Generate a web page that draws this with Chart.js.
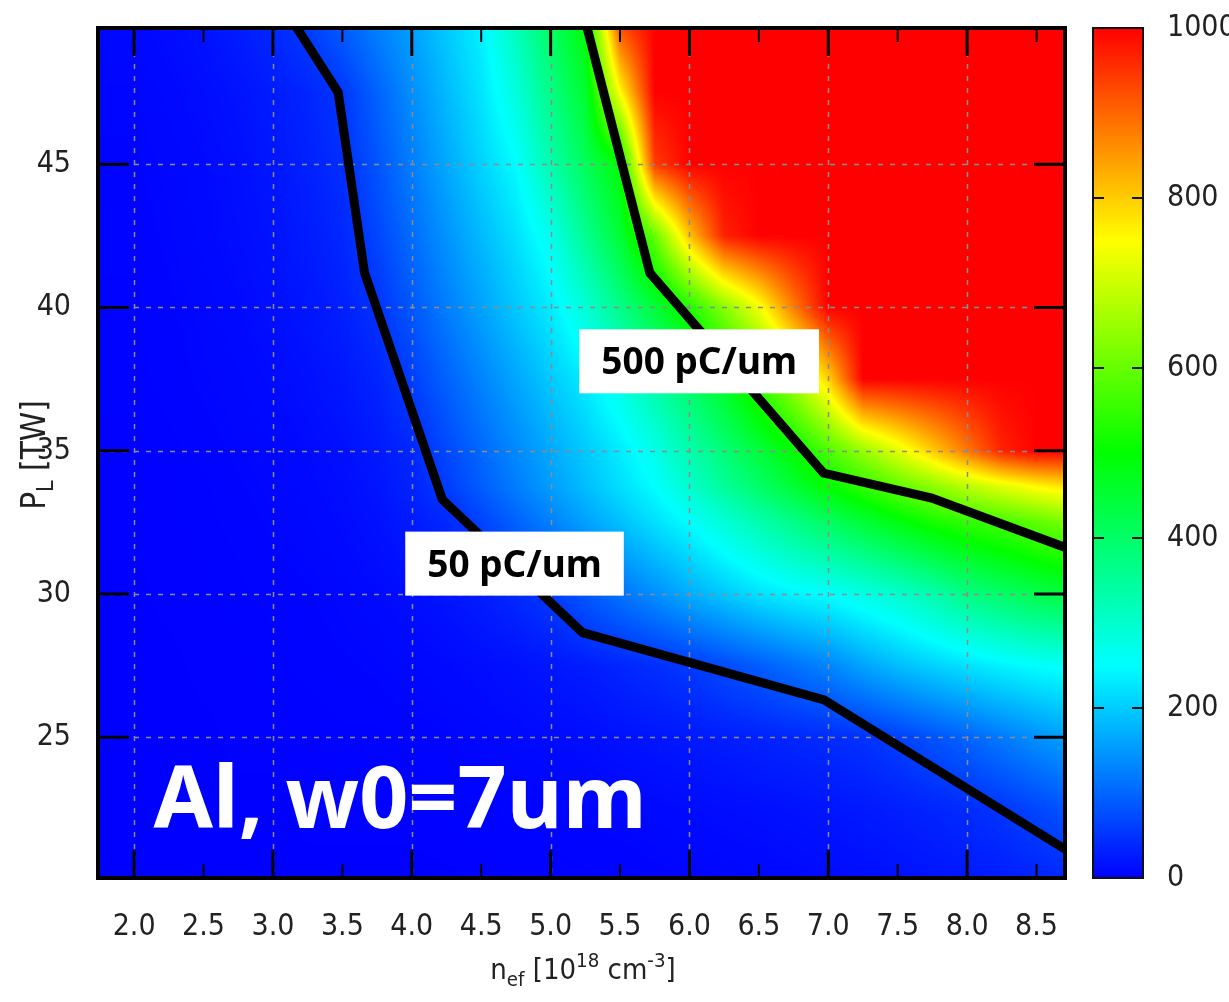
<!DOCTYPE html>
<html>
<head>
<meta charset="utf-8">
<title>Al, w0=7um charge map</title>
<script src="https://cdn.jsdelivr.net/npm/chart.js@4.4.1/dist/chart.umd.min.js"></script>
<style>
  html, body { margin: 0; padding: 0; background: #fff; }
  canvas { display: block; }
</style>
</head>
<body>
<canvas id="map" width="1229" height="1002"></canvas>
<script>
// sample grid: plasma density n_ef [1e18 cm^-3] and laser power P_L [TW]
const nefGrid = [2.0, 2.25, 2.5, 2.75, 3.0, 3.25, 3.5, 3.75, 4.0, 4.25, 4.5, 4.75, 5.0, 5.25,
                 5.5, 5.75, 6.0, 6.25, 6.5, 6.75, 7.0, 7.25, 7.5, 7.75, 8.0, 8.25, 8.5, 8.75];
const powerGrid = [50, 47.5, 45, 42.5, 40, 37.5, 35, 33.75, 32.5, 30, 27.5, 25, 22.5, 20];

// charge per unit length [pC/um], one row per power value
const q50   = [8, 12, 18, 28, 40, 60, 95, 128, 160, 200, 238, 320, 408, 496, 940, 1000, 1000, 1000, 1000, 1000, 1000, 1000, 1000, 1000, 1000, 1000, 1000, 1000];
const q475  = [5, 8, 12, 18, 26, 36, 53, 96, 139, 182, 224, 284, 370, 455, 750, 1000, 1000, 1000, 1000, 1000, 1000, 1000, 1000, 1000, 1000, 1000, 1000, 1000];
const q45   = [4, 6, 9, 14, 21, 31, 45, 82, 123, 165, 207, 248, 330, 413, 497, 941, 1000, 1000, 1000, 1000, 1000, 1000, 1000, 1000, 1000, 1000, 1000, 1000];
const q425  = [3, 5, 8, 12, 18, 26, 38, 67, 106, 144, 182, 220, 268, 358, 448, 598, 808, 968, 1000, 1000, 1000, 1000, 1000, 1000, 1000, 1000, 1000, 1000];
const q40   = [2, 4, 6, 9, 14, 20, 30, 49, 86, 123, 159, 196, 232, 290, 367, 444, 529, 633, 738, 878, 1000, 1000, 1000, 1000, 1000, 1000, 1000, 1000];
const q375  = [2, 3, 5, 7, 10, 15, 22, 34, 60, 95, 129, 163, 198, 232, 280, 343, 406, 469, 554, 663, 792, 1000, 1000, 1000, 1000, 1000, 1000, 1000];
const q35   = [1, 2, 3, 5, 7, 10, 15, 24, 38, 70, 102, 134, 166, 198, 231, 273, 330, 386, 443, 500, 574, 647, 721, 800, 883, 967, 1000, 1000];
const q3375 = [1, 1, 2, 4, 6, 8, 12, 19, 34, 58, 90, 122, 154, 186, 218, 250, 300, 350, 400, 450, 500, 545, 590, 635, 680, 720, 755, 780];
const q325  = [1, 1, 2, 3, 5, 7, 10, 16, 25, 38, 64, 95, 126, 157, 188, 219, 250, 289, 328, 367, 406, 445, 484, 520, 545, 565, 590, 620];
const q30   = [0, 1, 1, 2, 3, 4, 6, 9, 13, 19, 28, 39, 57, 85, 112, 140, 170, 196, 222, 240, 252, 275, 298, 330, 372, 400, 425, 445];
const q275  = [0, 0, 1, 1, 2, 3, 4, 5, 7, 9, 12, 16, 21, 27, 36, 45, 56, 73, 90, 110, 130, 160, 185, 205, 222, 238, 250, 258];
const q25   = [0, 0, 0, 1, 1, 1, 2, 2, 3, 4, 6, 8, 10, 12, 16, 20, 24, 28, 33, 38, 43, 48, 62, 80, 98, 120, 142, 160];
const q225  = [0, 0, 0, 0, 0, 1, 1, 1, 1, 2, 2, 3, 4, 5, 6, 8, 10, 12, 14, 17, 20, 24, 29, 35, 42, 52, 68, 85];
const q20   = [0, 0, 0, 0, 0, 0, 0, 0, 0, 0, 1, 1, 1, 2, 2, 3, 4, 5, 6, 8, 10, 12, 15, 18, 22, 27, 32, 38];
const charge = [q50, q475, q45, q425, q40, q375, q35, q3375, q325, q30, q275, q25, q225, q20];

// iso-charge lines
const line50N  = [3.14, 3.47, 3.66, 4.22, 5.23, 6.97, 8.72];
const line50P  = [50.0, 47.5, 41.2, 33.3, 28.65, 26.3, 21.05];
const line500N = [5.25, 5.715, 6.965, 7.745, 8.72];
const line500P = [50.0, 41.2, 34.22, 33.35, 31.6];

// axes
const xTicks = [2.0, 2.5, 3.0, 3.5, 4.0, 4.5, 5.0, 5.5, 6.0, 6.5, 7.0, 7.5, 8.0, 8.5];
const yTicks = [25, 30, 35, 40, 45];
const cbTicks = [0, 200, 400, 600, 800, 1000];

// palette: blue -> cyan -> green -> yellow -> red
const paletteStops = [0, 250, 500, 750, 1000];
const paletteRgb = [[0, 0, 255], [0, 255, 255], [0, 255, 0], [255, 255, 0], [255, 0, 0]];

const narrow = "'DejaVu Sans Condensed', 'DejaVu Sans', sans-serif";
const tickFont = { family: narrow, size: 30 };

function colorFor(v) {
  if (v <= paletteStops[0]) return paletteRgb[0];
  const n = paletteStops.length - 1;
  if (v >= paletteStops[n]) return paletteRgb[n];
  for (let k = 0; k < n; k++) {
    if (v <= paletteStops[k + 1]) {
      const t = (v - paletteStops[k]) / (paletteStops[k + 1] - paletteStops[k]);
      const a = paletteRgb[k], b = paletteRgb[k + 1];
      return [a[0] + (b[0] - a[0]) * t, a[1] + (b[1] - a[1]) * t, a[2] + (b[2] - a[2]) * t];
    }
  }
}

// index of the grid interval holding v, plus the fraction inside it
function locate(arr, v) {
  const last = arr.length - 1;
  const asc = arr[last] > arr[0];
  if (asc ? v <= arr[0] : v >= arr[0]) return [0, 0];
  if (asc ? v >= arr[last] : v <= arr[last]) return [last - 1, 1];
  for (let k = 0; k < last; k++) {
    const a = arr[k], b = arr[k + 1];
    if ((v - a) * (v - b) <= 0) return [k, (v - a) / (b - a)];
  }
  return [last - 1, 1];
}

function drawRich(ctx, parts, x, y, size, align) {
  const widthOf = p => {
    ctx.font = `${p.sub || p.sup ? size * 0.7 : size}px ${narrow}`;
    return ctx.measureText(p.t).width;
  };
  const total = parts.reduce((s, p) => s + widthOf(p), 0);
  let cx = align === 'center' ? x - total / 2 : x;
  ctx.textAlign = 'left';
  ctx.textBaseline = 'alphabetic';
  parts.forEach(p => {
    const w = widthOf(p);
    const dy = p.sub ? size * 0.25 : p.sup ? -size * 0.4 : 0;
    ctx.fillText(p.t, cx, y + dy);
    cx += w;
  });
}

const isMajor = v => Math.abs(v - Math.round(v)) < 1e-6;

// keep the plot box fixed: no extra room reserved for edge labels
function fixBox(size) {
  return s => {
    if (s.isHorizontal()) s.height = size; else s.width = size;
    s.paddingTop = s.paddingBottom = s.paddingLeft = s.paddingRight = 0;
  };
}

const heatmap = {
  id: 'heatmap',
  beforeDatasetsDraw(chart) {
    const { ctx, chartArea: a, scales: { x, y } } = chart;
    const left = Math.round(a.left), top = Math.round(a.top);
    const w = Math.round(a.right) - left, h = Math.round(a.bottom) - top;
    const img = ctx.createImageData(w, h);
    const cols = [];
    for (let i = 0; i < w; i++) cols.push(locate(nefGrid, x.getValueForPixel(left + i + 0.5)));
    for (let j = 0; j < h; j++) {
      const [r, s] = locate(powerGrid, y.getValueForPixel(top + j + 0.5));
      const hi = charge[r], lo = charge[r + 1];
      for (let i = 0; i < w; i++) {
        const [c, t] = cols[i];
        const v = (hi[c] * (1 - t) + hi[c + 1] * t) * (1 - s) + (lo[c] * (1 - t) + lo[c + 1] * t) * s;
        const rgb = colorFor(v);
        const k = (j * w + i) * 4;
        img.data[k] = rgb[0];
        img.data[k + 1] = rgb[1];
        img.data[k + 2] = rgb[2];
        img.data[k + 3] = 255;
      }
    }
    ctx.putImageData(img, left, top);

    // dashed grid
    ctx.save();
    ctx.strokeStyle = '#8c8c8c';
    ctx.lineWidth = 1.5;
    ctx.setLineDash([5, 7]);
    xTicks.filter(isMajor).forEach(v => {
      const px = Math.round(x.getPixelForValue(v)) + 0.5;
      ctx.beginPath(); ctx.moveTo(px, a.top); ctx.lineTo(px, a.bottom); ctx.stroke();
    });
    yTicks.forEach(v => {
      const py = Math.round(y.getPixelForValue(v)) + 0.5;
      ctx.beginPath(); ctx.moveTo(a.left, py); ctx.lineTo(a.right, py); ctx.stroke();
    });
    ctx.restore();
  },
  afterDatasetsDraw(chart) {
    const { ctx, chartArea: a, scales: { x, y, cb } } = chart;
    ctx.save();

    // contour labels
    ctx.font = `bold 37px 'Noto Sans', sans-serif`;
    [{ text: '500 pC/um', n: 6.07, p: 38.12 }, { text: '50 pC/um', n: 4.74, p: 31.06 }].forEach(l => {
      const cx = x.getPixelForValue(l.n), cy = y.getPixelForValue(l.p);
      const tw = ctx.measureText(l.text).width;
      ctx.fillStyle = '#fff';
      ctx.fillRect(cx - tw / 2 - 22, cy - 32, tw + 44, 64);
      ctx.fillStyle = '#000';
      ctx.textAlign = 'center';
      ctx.textBaseline = 'alphabetic';
      ctx.fillText(l.text, cx, cy + 13);
    });

    // target / spot label
    ctx.fillStyle = '#fff';
    ctx.font = `bold 86px 'Noto Sans', sans-serif`;
    ctx.textAlign = 'left';
    ctx.fillText('Al, w0=7um', x.getPixelForValue(2.14), y.getPixelForValue(21.83));

    // inner tick marks
    ctx.strokeStyle = '#000';
    xTicks.forEach(v => {
      const px = x.getPixelForValue(v);
      const len = isMajor(v) ? 28 : 14;
      ctx.lineWidth = isMajor(v) ? 3 : 2;
      ctx.beginPath();
      ctx.moveTo(px, a.bottom); ctx.lineTo(px, a.bottom - len);
      ctx.moveTo(px, a.top); ctx.lineTo(px, a.top + len);
      ctx.stroke();
    });
    ctx.lineWidth = 3;
    yTicks.forEach(v => {
      const py = y.getPixelForValue(v);
      ctx.beginPath();
      ctx.moveTo(a.left, py); ctx.lineTo(a.left + 31, py);
      ctx.moveTo(a.right, py); ctx.lineTo(a.right - 31, py);
      ctx.stroke();
    });

    // frame
    ctx.lineWidth = 4;
    ctx.strokeRect(a.left, a.top, a.right - a.left, a.bottom - a.top);

    // colour bar
    const bx = 1093, bw = 50;
    const b0 = cb.getPixelForValue(cbTicks[0]), b1 = cb.getPixelForValue(cbTicks[cbTicks.length - 1]);
    const grad = ctx.createLinearGradient(0, b0, 0, b1);
    paletteStops.forEach((s, k) => {
      const c = paletteRgb[k];
      grad.addColorStop((s - cbTicks[0]) / (cbTicks[cbTicks.length - 1] - cbTicks[0]), `rgb(${c[0]},${c[1]},${c[2]})`);
    });
    ctx.fillStyle = grad;
    ctx.fillRect(bx, b1, bw, b0 - b1);
    ctx.lineWidth = 2;
    ctx.strokeStyle = '#111';
    ctx.strokeRect(bx, b1, bw, b0 - b1);
    cbTicks.slice(1, -1).forEach(v => {
      const py = cb.getPixelForValue(v);
      ctx.beginPath();
      ctx.moveTo(bx, py); ctx.lineTo(bx + 11, py);
      ctx.moveTo(bx + bw, py); ctx.lineTo(bx + bw - 11, py);
      ctx.stroke();
    });

    ctx.restore();
  },
  afterDraw(chart) {
    const { ctx } = chart;
    ctx.save();
    ctx.fillStyle = '#222';
    drawRich(ctx, [{ t: 'n' }, { t: 'ef', sub: true }, { t: ' [10' }, { t: '18', sup: true },
                   { t: ' cm' }, { t: '-3', sup: true }, { t: ']' }], 583, 979, 29, 'center');
    ctx.translate(45, 455);
    ctx.rotate(-Math.PI / 2);
    drawRich(ctx, [{ t: 'P' }, { t: 'L', sub: true }, { t: ' [TW]' }], 0, 0, 33, 'center');
    ctx.restore();
  }
};

const lineStyle = {
  showLine: true,
  borderColor: '#000',
  borderWidth: 9,
  pointRadius: 0,
  tension: 0,
  borderJoinStyle: 'miter',
  clip: 0
};

new Chart(document.getElementById('map'), {
  type: 'scatter',
  data: {
    datasets: [
      { ...lineStyle, label: '50 pC/um', data: line50N.map((n, i) => ({ x: n, y: line50P[i] })) },
      { ...lineStyle, label: '500 pC/um', data: line500N.map((n, i) => ({ x: n, y: line500P[i] })) }
    ]
  },
  options: {
    responsive: false,
    animation: false,
    layout: { padding: { top: 28, left: 0, right: 0, bottom: 0 } },
    plugins: { legend: { display: false }, tooltip: { enabled: false } },
    scales: {
      x: {
        type: 'linear', position: 'bottom', min: 1.74, max: 8.705,
        afterBuildTicks: s => { s.ticks = xTicks.map(v => ({ value: v })); },
        afterFit: fixBox(124),
        grid: { display: false, drawTicks: false }, border: { display: false },
        ticks: { font: tickFont, color: '#222', padding: 31, autoSkip: false, maxRotation: 0, minRotation: 0,
                 callback: v => Number(v).toFixed(1) }
      },
      y: {
        type: 'linear', position: 'left', min: 20.09, max: 49.75,
        afterBuildTicks: s => { s.ticks = yTicks.map(v => ({ value: v })); },
        afterFit: fixBox(98),
        grid: { display: false, drawTicks: false }, border: { display: false },
        ticks: { font: tickFont, color: '#222', padding: 27, callback: v => String(v) }
      },
      cb: {
        type: 'linear', position: 'right', min: 0, max: 1000,
        afterBuildTicks: s => { s.ticks = cbTicks.map(v => ({ value: v })); },
        afterFit: fixBox(164),
        grid: { display: false, drawTicks: false }, border: { display: false },
        ticks: { font: tickFont, color: '#222', padding: 102, callback: v => String(v) }
      }
    }
  },
  plugins: [heatmap]
});
</script>
</body>
</html>
